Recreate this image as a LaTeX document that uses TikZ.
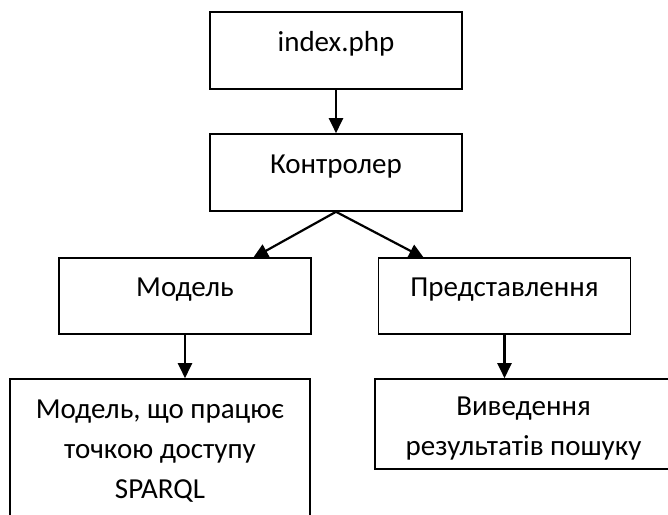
\documentclass[tikz,border=0pt]{standalone}
\usepackage{fontspec}
\setmainfont{Carlito}
\usetikzlibrary{arrows.meta, calc}

\begin{document}
\begin{tikzpicture}[x=1pt,y=-1pt,
  box/.style={draw, line width=1.6pt, minimum width=252pt, minimum height=77pt, inner sep=0pt},
  lbl/.style={anchor=base, align=center, font=\fontsize{29}{40}\selectfont},
  arr/.style={-{Triangle[length=15pt,width=14pt]}, line width=2.2pt}]
\useasboundingbox (0,0) rectangle (668,514);

 %boxes:
 \node[box] (index) at (336,50.5) {};
 \node[box] (kontr) at (336,172.5) {};
 \node[box,minimum height=76pt] (model) at (185,296) {};
 \node[box,minimum height=76pt] (predst) at (504.5,296) {};
 \node[box,minimum width=300pt,minimum height=150pt] (sparql) at (160,454) {};
 \node[box,minimum width=297pt,minimum height=90pt] (vyved) at (523.5,424) {};

 %labels (base = last line):
 \node[lbl] (index-t) at ($(index.north)+(0,40)$) {index.php};
 \node[lbl] (kontr-t) at ($(kontr.north)+(0,40)$) {Контролер};
 \node[lbl] (model-t) at ($(model.north)+(0,39)$) {Модель};
 \node[lbl] (predst-t) at ($(predst.north)+(0,39)$) {Представлення};
 \node[lbl] (sparql-t) at ($(sparql.north)+(0,120)$) {Модель, що працює\\точкою доступу\\SPARQL};
 \begin{scope}
  \clip (375,379) rectangle (672,459);
  \node[lbl] (vyved-t) at ($(vyved.north)+(0,77)$) {Виведення\\результатів пошуку};
 \end{scope}

 %arrows
 \coordinate (mtip) at (253,258);
 \coordinate (ptip) at (424,258);
 \draw[arr] (index) -- (kontr);
 \draw[arr] (kontr.south) -- (mtip);
 \draw[arr] (kontr.south) -- (ptip);
 \draw[arr] (model.south) -- (model.south |- sparql.north);
 \draw[arr] (predst.south) -- (predst.south |- vyved.north);
\end{tikzpicture}
\end{document}
